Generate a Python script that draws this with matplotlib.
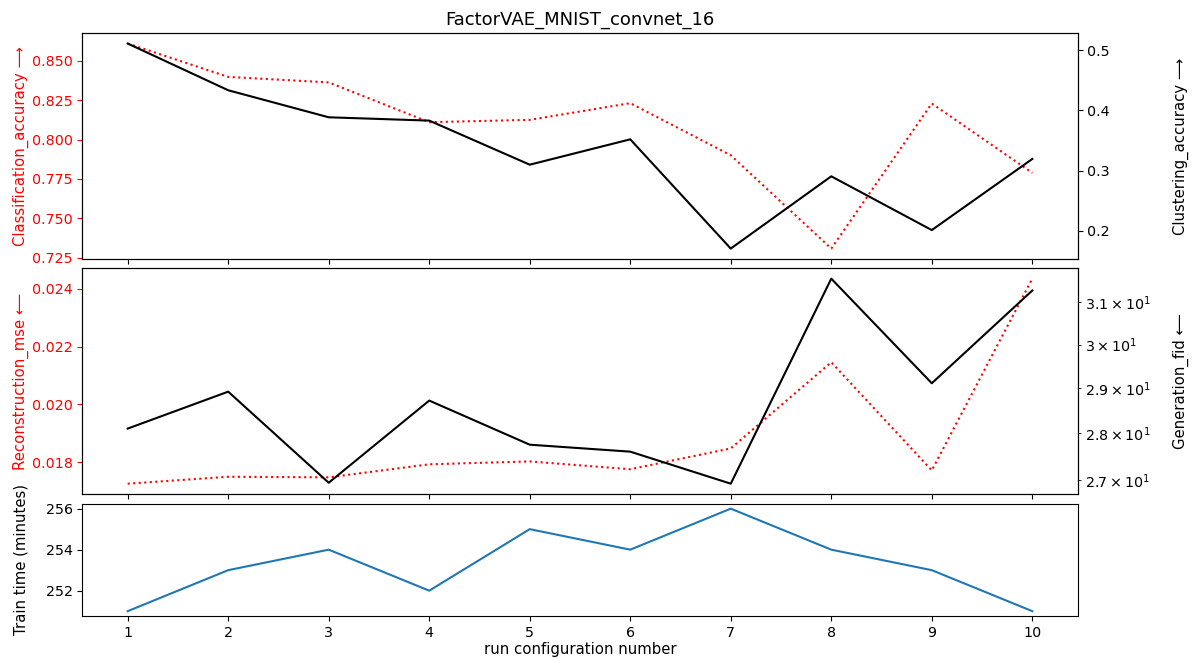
import matplotlib
matplotlib.use("Agg")
import matplotlib.pyplot as plt
from matplotlib.ticker import MultipleLocator

# run configurations
runs = [1, 2, 3, 4, 5, 6, 7, 8, 9, 10]

# top panel
classification_accuracy = [0.8610, 0.8398, 0.8363, 0.8110, 0.8125, 0.8231, 0.7900, 0.7307, 0.8229, 0.7788]
clustering_accuracy = [0.511, 0.4334, 0.3885, 0.383, 0.3098, 0.3519, 0.1705, 0.2905, 0.2012, 0.3193]

# middle panel
reconstruction_mse = [0.01726, 0.01750, 0.01748, 0.01793, 0.01803, 0.01776, 0.01848, 0.02146, 0.01772, 0.02435]
generation_fid = [28.10, 28.92, 26.94, 28.72, 27.75, 27.60, 26.92, 31.58, 29.11, 31.29]

# bottom panel
train_time = [251, 253, 254, 252, 255, 254, 256, 254, 253, 251]

LABEL_SIZE = 10.7
plt.rcParams['xtick.labelsize'] = 10.3
plt.rcParams['ytick.labelsize'] = 10.3

fig = plt.figure(figsize=(11.95, 6.59), dpi=100)
gs = fig.add_gridspec(3, 1, height_ratios=[2, 2, 1], hspace=0.051,
                      left=0.069, right=0.9017, top=0.9495, bottom=0.0648)
ax1 = fig.add_subplot(gs[0])
ax2 = fig.add_subplot(gs[1], sharex=ax1)
ax3 = fig.add_subplot(gs[2], sharex=ax1)

# classification vs clustering
ax1.plot(runs, classification_accuracy, ':', color='red')
ax1.set_ylabel('Classification_accuracy \u27f6', color='red', fontsize=LABEL_SIZE, labelpad=2)
ax1.tick_params(axis='y', colors='red')
ax1.yaxis.set_major_locator(MultipleLocator(0.025))
ax1b = ax1.twinx()
ax1b.plot(runs, clustering_accuracy, '-', color='black')
ax1b.yaxis.set_major_locator(MultipleLocator(0.1))
ax1b.set_ylabel('Clustering_accuracy \u27f6', fontsize=LABEL_SIZE, labelpad=16)
ax1.set_title('FactorVAE_MNIST_convnet_16', fontsize=13)

# reconstruction vs generation
ax2.plot(runs, reconstruction_mse, ':', color='red')
ax2.set_ylabel('Reconstruction_mse \u27f5', color='red', fontsize=LABEL_SIZE, labelpad=2)
ax2.tick_params(axis='y', colors='red')
ax2.yaxis.set_major_locator(MultipleLocator(0.002))
ax2b = ax2.twinx()
ax2b.plot(runs, generation_fid, '-', color='black')
ax2b.set_yscale('log')
ax2b.set_ylabel('Generation_fid \u27f5', fontsize=LABEL_SIZE, labelpad=16)

# training time
ax3.plot(runs, train_time, color='C0')
ax3.set_ylabel('Train time (minutes)', fontsize=LABEL_SIZE, labelpad=2)
ax3.set_xlabel('run configuration number', fontsize=LABEL_SIZE, labelpad=1.5)
ax3.set_xticks(runs)
ax3.yaxis.set_major_locator(MultipleLocator(2))

plt.setp(ax1.get_xticklabels(), visible=False)
plt.setp(ax2.get_xticklabels(), visible=False)

fig.align_ylabels([ax1, ax2, ax3])
fig.align_ylabels([ax1b, ax2b])

fig.savefig('out.png', dpi=100)
